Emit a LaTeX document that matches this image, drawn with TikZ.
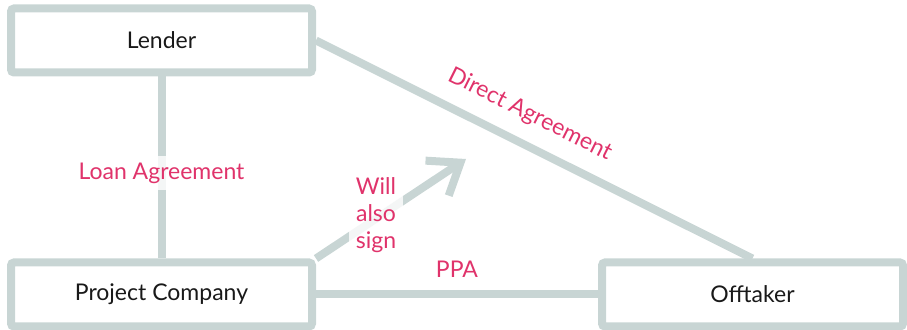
\documentclass[tikz,border=0pt]{standalone}
\usepackage{fontspec}
\setmainfont{Lato}
\usetikzlibrary{arrows.meta}
\definecolor{linegray}{HTML}{C8D5D4}
\definecolor{dealpink}{HTML}{E0336B}
\newcommand*{\boxwd}{150.5pt}
\newcommand*{\boxht}{32pt}
\newcommand*{\lnwd }{4pt}

\begin{document}
\begin{tikzpicture}[x=0.5pt, y=-0.5pt, font=\fontsize{11.5}{13.6}\selectfont,
        party/.style={draw=linegray, line width=\lnwd, rounded corners=1.5pt, minimum width=\boxwd, minimum height=\boxht, inner sep=0pt, text=black!90},
        link/.style={draw=linegray, line width=\lnwd},
        deal/.style={text=dealpink, align=center, fill=white, fill opacity=0.8, text opacity=1}]
    \useasboundingbox (0,0) rectangle (907,330);
        \node [party] (lender)   at (161.5, 40.5) {Lender};
        \node [party] (project)  at (161.5,294.5) {Project Company};
        \node [party] (offtaker) at (752.5,294.5) {Offtaker};
        \coordinate (signtip) at (466,159);
        \draw [link] (lender) -- node [deal, pos=0.53] {Loan Agreement} (project);
        \draw [link] (lender.east) -- node [deal, pos=0.46, sloped, above=4pt] {Direct Agreement} (offtaker.north);
        \draw [link] (project) -- node [deal, above=3pt] {PPA} (offtaker);
        \draw [link, -{Straight Barb[length=14pt, width=21pt]}] (project.north east) -- (signtip);
        \node [deal] (willsign) at (376,215) {Will\\also\\sign};
        %\draw [link] (lender.south east) -- (offtaker.north west);
    \end{tikzpicture}
\end{document}
